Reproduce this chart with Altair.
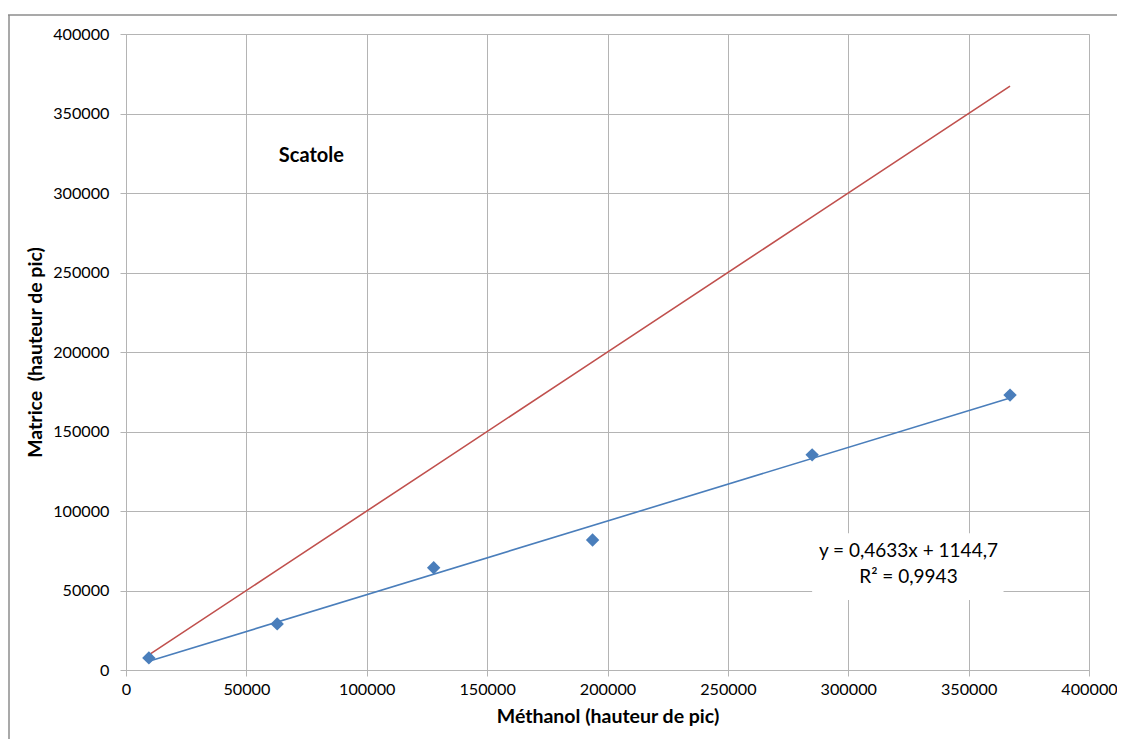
import altair as alt
import pandas as pd

# Data
methanol = [9500, 62800, 127800, 193800, 285000, 367200]
matrice = [7600, 29000, 64300, 81800, 135300, 172900]

eq_line1 = "y = 0,4633x + 1144,7"
eq_line2 = "R² = 0,9943"
label_name = "Scatole"

x_ticks = [0, 50000, 100000, 150000, 200000, 250000, 300000, 350000, 400000]
y_ticks = [0, 50000, 100000, 150000, 200000, 250000, 300000, 350000, 400000]

FONT = "Lato"
BLUE = "#4A7EBB"
RED = "#C0504D"
GRID = "#B4B4B4"

df = pd.DataFrame({"x": methanol, "y": matrice})

xs = alt.Scale(domain=[0, 400000], nice=False)
ys = alt.Scale(domain=[0, 400000], nice=False)

x_axis = alt.Axis(values=x_ticks, format="d", title="Méthanol (hauteur de pic)",
                  grid=True, gridColor=GRID, domainColor=GRID, tickColor=GRID,
                  tickSize=6, labelPadding=5, labelFontSize=16.2, labelFont=FONT,
                  labelColor="#000", titleFont=FONT, titleFontSize=19.5,
                  titleFontWeight="bold", titleColor="#000", titlePadding=10,
                  labelFlush=False)
y_axis = alt.Axis(values=y_ticks, format="d", title="Matrice\u00a0\u00a0(hauteur de pic)",
                  grid=True, gridColor=GRID, domainColor=GRID, tickColor=GRID,
                  tickSize=6, labelPadding=11, labelFontSize=16.2, labelFont=FONT,
                  labelColor="#000", titleFont=FONT, titleFontSize=19.5,
                  titleFontWeight="bold", titleColor="#000", titlePadding=7,
                  labelFlush=False)

base = alt.Chart(df)

# Red identity line (y = x) over the same x values
red = base.transform_calculate(yy="datum.x").mark_line(color=RED, strokeWidth=1.6).encode(
    x=alt.X("x:Q", scale=xs, axis=x_axis),
    y=alt.Y("yy:Q", scale=ys, axis=y_axis),
)

# Linear trendline
trend = base.transform_regression("x", "y", method="linear").mark_line(
    color=BLUE, strokeWidth=1.6).encode(
    x=alt.X("x:Q", scale=xs),
    y=alt.Y("y:Q", scale=ys),
)

points = base.mark_point(shape="diamond", filled=True, size=180, color=BLUE, opacity=1).encode(
    x=alt.X("x:Q", scale=xs),
    y=alt.Y("y:Q", scale=ys),
)

box_df = pd.DataFrame({"x1": [285000], "x2": [364500], "y1": [44000], "y2": [86000]})
box = alt.Chart(box_df).mark_rect(fill="white").encode(
    x=alt.X("x1:Q", scale=xs), x2="x2:Q",
    y=alt.Y("y1:Q", scale=ys), y2="y2:Q",
)

eq_df = pd.DataFrame({"x": [325000, 325000], "y": [74800, 58400], "t": [eq_line1, eq_line2]})
eq = alt.Chart(eq_df).mark_text(font=FONT, fontSize=19, color="#000", align="center",
                                baseline="middle").encode(
    x=alt.X("x:Q", scale=xs), y=alt.Y("y:Q", scale=ys), text="t:N")

name_df = pd.DataFrame({"x": [77000], "y": [323300], "t": [label_name]})
name = alt.Chart(name_df).mark_text(font=FONT, fontSize=20, fontWeight="bold", color="#000",
                                    align="center", baseline="middle").encode(
    x=alt.X("x:Q", scale=xs), y=alt.Y("y:Q", scale=ys), text="t:N")

# Outer chart frame (top and left edges)
frame_top = alt.Chart(pd.DataFrame({"a": [0]})).mark_rule(color="#8C8C8C", strokeWidth=1.5).encode(
    x=alt.value(-118), x2=alt.value(992), y=alt.value(-19))
frame_left = alt.Chart(pd.DataFrame({"a": [0]})).mark_rule(color="#8C8C8C", strokeWidth=1.5).encode(
    x=alt.value(-117), y=alt.value(-19), y2=alt.value(720))

chart = alt.layer(box, red, trend, points, eq, name, frame_top, frame_left).properties(
    width=963, height=636,
    autosize=alt.AutoSizeParams(type="none"),
    padding={"left": 118, "top": 26, "right": 28, "bottom": 69},
).configure_view(stroke=None).configure(background="white")

chart.save("out.html", embed_options={"renderer": "svg", "actions": False})
